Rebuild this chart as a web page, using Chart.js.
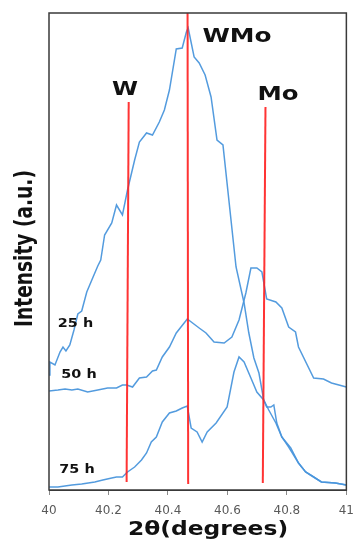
<!DOCTYPE html>
<html lang="en">
<head>
  <meta charset="UTF-8" />
  <title>XRD peaks W-Mo</title>
  <script src="https://cdn.jsdelivr.net/npm/chart.js"></script>
  <style>
    body { margin: 0; background: #fff; }
    canvas { display: block; }
  </style>
</head>
<body>
<canvas id="xrd" width="363" height="550"></canvas>

<script>
  // 2theta tick labels
  const xTicks = [40, 40.2, 40.4, 40.6, 40.8, 41];

  // 25 h milling
  const x25 = [40.000, 40.003, 40.020, 40.037, 40.047, 40.057, 40.070, 40.084, 40.097, 40.110,
               40.127, 40.144, 40.164, 40.174, 40.187, 40.211, 40.227, 40.247, 40.264, 40.288,
               40.304, 40.328, 40.348, 40.371, 40.388, 40.405, 40.428, 40.448, 40.462, 40.468,
               40.488, 40.505, 40.525, 40.545, 40.565, 40.585, 40.629, 40.656, 40.672, 40.689,
               40.706, 40.722, 40.732, 40.746, 40.756, 40.766, 40.783, 40.806, 40.839, 40.863,
               40.890, 40.916, 40.963, 41.000];
  const y25 = [115, 128, 125, 138, 143, 139, 145, 160, 176, 179,
               198, 210, 224, 230, 255, 267, 285, 275, 300, 330,
               348, 357, 355, 368, 380, 400, 441, 442, 458, 462,
               433, 427, 415, 393, 350, 345, 223, 187, 157, 132,
               117, 90, 83, 83, 85, 67, 53, 43, 27, 18,
               13, 8, 7, 5];

  // 50 h milling
  const x50 = [40.000, 40.030, 40.054, 40.077, 40.097, 40.130, 40.164, 40.197, 40.227, 40.247,
               40.261, 40.281, 40.304, 40.328, 40.348, 40.361, 40.381, 40.405, 40.428, 40.465,
               40.505, 40.528, 40.555, 40.589, 40.615, 40.639, 40.662, 40.679, 40.699, 40.716,
               40.732, 40.763, 40.783, 40.806, 40.829, 40.839, 40.890, 40.923, 40.950, 41.000];
  const y50 = [99, 100, 101, 100, 101, 98, 100, 102, 102, 105,
               105, 103, 112, 113, 119, 120, 133, 143, 157, 171,
               162, 157, 148, 147, 153, 170, 197, 222, 222, 218,
               191, 188, 182, 163, 158, 143, 112, 111, 107, 103];

  // 75 h milling
  const x75 = [40.000, 40.030, 40.077, 40.110, 40.154, 40.181, 40.211, 40.227, 40.247, 40.264,
               40.288, 40.311, 40.328, 40.344, 40.361, 40.381, 40.405, 40.428, 40.448, 40.465,
               40.478, 40.498, 40.515, 40.532, 40.562, 40.599, 40.622, 40.639, 40.656, 40.679,
               40.699, 40.722, 40.739, 40.763, 40.783, 40.813, 40.839, 40.863, 40.890, 40.916,
               40.963, 41.000];
  const y75 = [3, 3, 5, 6, 8, 10, 12, 13, 13, 18,
               23, 30, 37, 48, 53, 68, 77, 79, 82, 84,
               62, 58, 48, 58, 67, 83, 118, 133, 128, 112,
               98, 90, 80, 67, 53, 42, 27, 18, 13, 8,
               7, 5];

  // reference peak positions (top and bottom ends of each marker line)
  const peakNames = ["W", "WMo", "Mo"];
  const peakTopX = [40.268, 40.466, 40.728];
  const peakBotX = [40.261, 40.468, 40.719];
  const peakTopY = [388, 477, 383];
  const peakBotY = [8, 6, 7];

  const seriesNames = ["25 h", "50 h", "75 h"];

  const blue = "rgba(74, 150, 220, 0.95)";
  const red = "rgba(255, 30, 30, 0.9)";

  function pts(xs, ys) {
    return xs.map((x, i) => ({ x: x, y: ys[i] }));
  }

  const datasets = [];
  peakNames.forEach((name, i) => {
    datasets.push({
      label: name,
      data: [{ x: peakTopX[i], y: peakTopY[i] }, { x: peakBotX[i], y: peakBotY[i] }],
      borderColor: red,
      borderWidth: 2,
      pointRadius: 0,
      order: 0
    });
  });
  [[x25, y25], [x50, y50], [x75, y75]].forEach((s, i) => {
    datasets.push({
      label: seriesNames[i],
      data: pts(s[0], s[1]),
      borderColor: blue,
      borderWidth: 1.5,
      pointRadius: 0,
      tension: 0,
      order: 1
    });
  });

  // stretched bold text, like the original figure
  function wideText(ctx, text, cx, cy, font, sx) {
    ctx.save();
    ctx.translate(cx, cy);
    ctx.scale(sx, 1);
    ctx.font = font;
    ctx.textAlign = "center";
    ctx.textBaseline = "middle";
    ctx.fillText(text, 0, 0);
    ctx.restore();
  }

  const decorations = {
    id: "decorations",
    afterDraw(chart) {
      const ctx = chart.ctx;
      const a = chart.chartArea;

      ctx.save();
      ctx.strokeStyle = "#3a3a3a";
      ctx.lineWidth = 1.5;
      ctx.strokeRect(a.left, a.top, a.right - a.left, a.bottom - a.top);

      ctx.fillStyle = "#111";
      const big = "bold 20px 'DejaVu Sans'";
      wideText(ctx, peakNames[0], 125, 90, big, 1.18);
      wideText(ctx, peakNames[1], 237, 37, big, 1.24);
      wideText(ctx, peakNames[2], 278, 95, big, 1.22);

      const small = "bold 12px 'DejaVu Sans'";
      wideText(ctx, seriesNames[0], 75.5, 323.5, small, 1.2);
      wideText(ctx, seriesNames[1], 79, 375, small, 1.2);
      wideText(ctx, seriesNames[2], 77, 469.5, small, 1.2);

      // x axis title
      wideText(ctx, "2θ(degrees)", 208, 530, "bold 19px 'DejaVu Sans'", 1.23);

      // y axis title
      ctx.save();
      ctx.translate(32, 248.5);
      ctx.rotate(-Math.PI / 2);
      ctx.scale(0.93, 1.25);
      ctx.font = "bold 20px 'DejaVu Sans'";
      ctx.textAlign = "center";
      ctx.textBaseline = "alphabetic";
      ctx.fillText("Intensity (a.u.)", 0, 0);
      ctx.restore();

      ctx.restore();
    }
  };

  new Chart(document.getElementById("xrd"), {
    type: "line",
    data: { datasets: datasets },
    options: {
      responsive: false,
      animation: false,
      devicePixelRatio: 1,
      layout: { padding: { left: 49, top: 13, right: 15, bottom: 0 } },
      plugins: { legend: { display: false }, tooltip: { enabled: false } },
      scales: {
        x: {
          type: "linear",
          min: 40,
          max: 41,
          afterBuildTicks: (scale) => { scale.ticks = xTicks.map(v => ({ value: v })); },
          afterFit: (scale) => { scale.height = 60; },
          ticks: {
            color: "#595959",
            font: { family: "DejaVu Sans", size: 12 },
            padding: 9,
            maxRotation: 0,
            callback: (v) => String(Math.round(v * 10) / 10)
          },
          grid: { drawOnChartArea: false, drawTicks: true, tickLength: 5, color: "#8a8a8a" },
          border: { display: true, color: "#3a3a3a" }
        },
        y: {
          display: false,
          min: 0,
          max: 477
        }
      }
    },
    plugins: [decorations]
  });
</script>
</body>
</html>
